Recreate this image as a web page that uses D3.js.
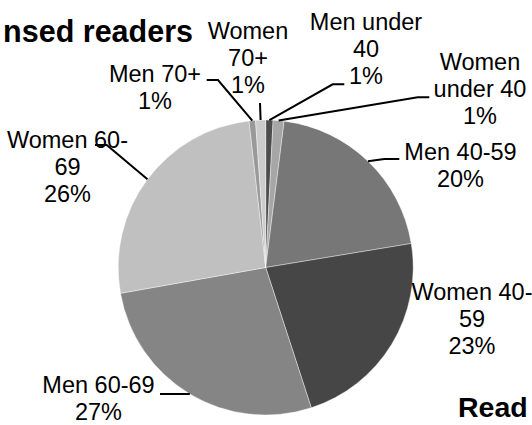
<!DOCTYPE html>
<html>
<head>
<meta charset="utf-8">
<script src="https://cdn.jsdelivr.net/npm/d3@7"></script>
<style>
  html, body { margin: 0; padding: 0; background: #fff; }
  svg { display: block; }
  text { font-family: "Liberation Sans", Arial, sans-serif; fill: #000; }
</style>
</head>
<body>
<svg id="chart" width="532" height="425"></svg>
<script>
// ---- data ----
const categories = ["Men under 40", "Women under 40", "Men 40-59", "Women 40-59",
                    "Men 60-69", "Women 60-69", "Men 70+", "Women 70+"];
const labelLines = [["Men under", "40"], ["Women", "under 40"], ["Men 40-59"], ["Women 40-", "59"],
                    ["Men 60-69"], ["Women 60-", "69"], ["Men 70+"], ["Women", "70+"]];
const values = [0.8, 1.2, 20.4, 22.6, 27.2, 26.0, 0.7, 1.1];
const titleText = "nsed readers";
const footText = "Read";

// ---- styles / layout ----
const colors = ["#4d4d4d", "#a6a6a6", "#777777", "#464646", "#858585", "#c0c0c0", "#999999", "#cccccc"];
const cx = 265.7, cy = 267.5, R = 147.5;
const labelPos = [
  {x: 366, y: 30,  leader: [[332.7, 84.3], [344.3, 84.3]]},
  {x: 480, y: 70,  leader: [[417.7, 97.3], [429.3, 97.3]]},
  {x: 460.5, y: 160, leader: [[384.3, 159], [399.3, 159]]},
  {x: 472, y: 300, leader: null},
  {x: 98.5, y: 393, leader: [[160, 394]]},
  {x: 67.5, y: 148, leader: [[106.7, 145], [95, 145]]},
  {x: 155, y: 82,  leader: [[218, 80], [206.7, 80]]},
  {x: 248, y: 39,  leader: [[260, 103]]}
];
const lineH = 27;

const svg = d3.select("#chart");
const total = d3.sum(values);
const pct = d3.format(".0%");

const pie = d3.pie().sort(null).value(d => d).startAngle(0).endAngle(2 * Math.PI);
const arcs = pie(values);
const arc = d3.arc().innerRadius(0).outerRadius(R);

const g = svg.append("g").attr("transform", `translate(${cx},${cy})`);
g.selectAll("path")
  .data(arcs)
  .join("path")
  .attr("d", arc)
  .attr("fill", (d, i) => colors[i])
  .attr("stroke", "#ffffff")
  .attr("stroke-width", 0.4);

// leader lines
const line = d3.line();
arcs.forEach((a, i) => {
  const lp = labelPos[i];
  if (!lp.leader) return;
  const mid = (a.startAngle + a.endAngle) / 2;
  const p0 = [cx + R * Math.sin(mid), cy - R * Math.cos(mid)];
  svg.append("path")
    .attr("d", line([p0, ...lp.leader]))
    .attr("fill", "none")
    .attr("stroke", "#000")
    .attr("stroke-width", 2);
});

// labels
arcs.forEach((a, i) => {
  const lp = labelPos[i];
  const lines = labelLines[i].concat([pct(values[i] / total)]);
  const t = svg.append("text")
    .attr("text-anchor", "middle")
    .attr("font-size", "23.5px");
  lines.forEach((s, k) => {
    t.append("tspan").attr("x", lp.x).attr("y", lp.y + k * lineH).text(s);
  });
});

// title fragments
svg.append("text")
  .attr("x", 193).attr("y", 41.5)
  .attr("text-anchor", "end")
  .attr("font-size", "30.5px").attr("font-weight", "bold")
  .text(titleText);
svg.append("text")
  .attr("x", 458).attr("y", 416.7)
  .attr("text-anchor", "start")
  .attr("font-size", "28.5px").attr("font-weight", "bold")
  .text(footText);
</script>
</body>
</html>
